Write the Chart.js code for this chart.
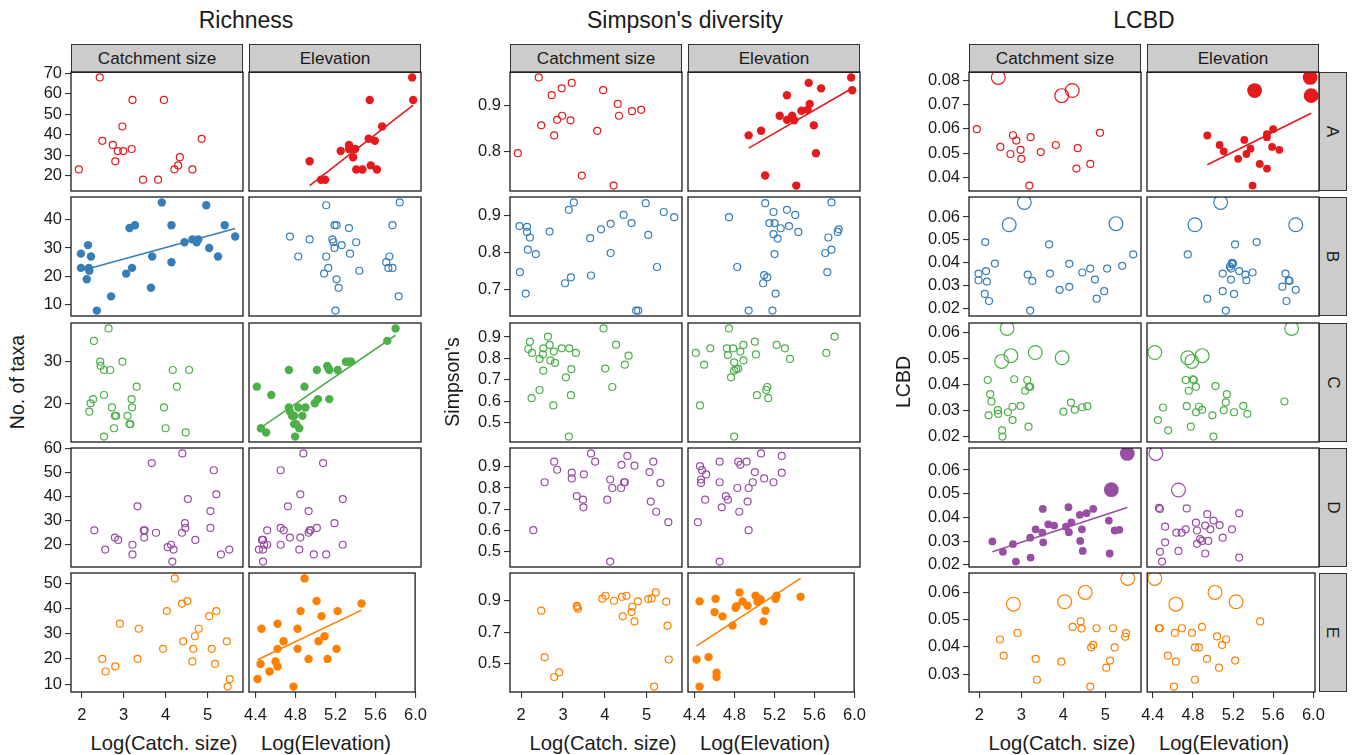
<!DOCTYPE html>
<html>
<head>
<meta charset="utf-8">
<script src="https://cdn.jsdelivr.net/npm/chart.js@4/dist/chart.umd.min.js"></script>
<style>
  html, body { margin: 0; padding: 0; background: #fff; }
  #fig { position: relative; width: 1352px; height: 755px; overflow: hidden;
         font-family: "Liberation Sans", Arial, Helvetica, sans-serif; color: #1a1a1a; }
  #fig canvas { position: absolute; }
  .txt { position: absolute; white-space: nowrap; }
  .strip { position: absolute; box-sizing: border-box; background: #cccccc; border: 1px solid #333;
           display: flex; align-items: center; justify-content: center; font-size: 17.2px; }
</style>
</head>
<body>
<div id="fig"></div>
<script>
// ---- data: [log x, value] per panel ----
// Richness (number of taxa)
const richA_catch = [[1.93,23],[2.43,68],[2.49,37],[2.74,35],[2.80,27],[2.86,32],[2.97,44],[2.99,32],[3.19,33],[3.21,57],[3.46,18],[3.82,18],[3.96,57],[4.21,23],[4.30,25],[4.34,29],[4.64,23],[4.86,38]];
const richA_elev = [[4.92,27],[5.03,18],[5.07,18],[5.22,32],[5.30,35],[5.30,33],[5.36,33],[5.34,29],[5.37,23],[5.43,23],[5.50,57],[5.49,38],[5.51,25],[5.55,37],[5.57,23],[5.62,44],[5.91,68],[5.92,57]];
const richB_catch = [[1.98,28],[1.98,23],[2.12,19],[2.15,31],[2.17,23],[2.18,22],[2.22,27],[2.36,8],[2.70,13],[3.06,21],[3.14,37],[3.20,23],[3.27,38],[3.65,16],[3.68,27],[3.91,46],[4.14,25],[4.14,38],[4.45,32],[4.64,33],[4.74,32],[4.78,33],[4.97,45],[5.04,30],[5.25,27],[5.41,38],[5.66,34]];
const richB_elev = [[4.73,34],[4.81,27],[4.92,33],[5.08,45],[5.08,27],[5.10,23],[5.06,21],[5.14,33],[5.15,32],[5.16,30],[5.16,38],[5.18,38],[5.18,19],[5.20,16],[5.17,8],[5.23,31],[5.30,37],[5.31,28],[5.37,32],[5.40,22],[5.66,25],[5.69,27],[5.68,23],[5.72,23],[5.72,38],[5.79,46],[5.78,13]];
const richC_catch = [[2.18,18],[2.21,20],[2.27,21],[2.29,35],[2.44,30],[2.45,29],[2.53,28],[2.53,22],[2.53,12],[2.64,38],[2.68,28],[2.72,19],[2.77,14],[2.79,17],[2.82,17],[2.97,30],[3.09,17],[3.14,15],[3.16,15],[3.19,21],[3.20,19],[3.31,24],[3.96,19],[4.00,14],[4.17,28],[4.27,24],[4.48,13],[4.56,28]];
const richC_elev = [[4.41,24],[4.45,14],[4.50,13],[4.55,22],[4.72,28],[4.72,19],[4.73,18],[4.75,17],[4.77,17],[4.77,15],[4.78,12],[4.79,15],[4.81,19],[4.82,14],[4.85,17],[4.87,24],[4.88,19],[4.97,20],[4.99,28],[5.00,21],[5.09,29],[5.10,28.5],[5.11,21],[5.11,28],[5.19,28],[5.27,30],[5.30,30],[5.32,30],[5.67,35],[5.75,38]];
const richD_catch = [[2.30,26],[2.56,18],[2.79,23],[2.87,22],[3.21,20],[3.21,16],[3.33,36],[3.48,26],[3.50,26],[3.49,23],[3.67,54],[3.77,25],[4.05,19],[4.13,20],[4.16,13],[4.19,18],[4.39,25],[4.40,58],[4.46,29],[4.47,27],[4.53,39],[4.71,22],[5.07,34],[5.07,27],[5.15,51],[5.21,41],[5.32,16],[5.52,18]];
const richD_elev = [[4.43,18],[4.46,22],[4.47,22],[4.47,18],[4.48,20],[4.47,13],[4.51,20],[4.51,26],[4.64,51],[4.64,27],[4.64,20],[4.67,26],[4.71,36],[4.73,23],[4.82,18],[4.83,41],[4.83,23],[4.86,58],[4.91,25],[4.91,34],[4.92,26],[4.93,26],[4.99,27],[5.05,54],[5.08,16],[4.96,16],[5.16,29],[5.24,39],[5.24,20]];
const richE_catch = [[2.49,20],[2.57,15],[2.80,17],[2.91,34],[3.33,20],[3.36,32],[3.94,24],[4.03,39],[4.22,52],[4.39,42],[4.42,27],[4.52,43],[4.64,19],[4.66,24],[4.70,29],[4.79,32],[5.04,37],[5.10,24],[5.18,18],[5.21,39],[5.46,27],[5.48,9],[5.53,12]];
const richE_elev = [[4.42,12],[4.45,18],[4.46,32],[4.54,15],[4.60,19],[4.62,24],[4.62,34],[4.62,17],[4.68,27],[4.78,9],[4.82,32],[4.82,24],[4.85,39],[4.89,52],[4.93,20],[5.01,43],[5.03,27],[5.06,37],[5.09,29],[5.12,20],[5.22,39],[5.21,24],[5.46,42]];

// Simpson's diversity
const simpA_catch = [[1.92,0.796],[2.42,0.962],[2.48,0.857],[2.73,0.923],[2.79,0.835],[2.86,0.869],[2.97,0.938],[2.98,0.878],[3.18,0.868],[3.21,0.950],[3.45,0.747],[3.82,0.845],[3.96,0.934],[4.21,0.725],[4.31,0.904],[4.34,0.878],[4.65,0.888],[4.87,0.891]];
const simpA_elev = [[4.92,0.835],[5.04,0.845],[5.08,0.747],[5.22,0.878],[5.29,0.923],[5.29,0.869],[5.34,0.878],[5.36,0.868],[5.38,0.725],[5.43,0.889],[5.50,0.950],[5.51,0.904],[5.49,0.891],[5.55,0.857],[5.57,0.796],[5.62,0.938],[5.91,0.962],[5.92,0.934]];
const simpB_catch = [[1.96,0.871],[1.97,0.746],[2.11,0.688],[2.14,0.869],[2.14,0.855],[2.16,0.807],[2.21,0.840],[2.35,0.795],[2.68,0.856],[3.05,0.716],[3.14,0.915],[3.19,0.732],[3.26,0.935],[3.65,0.838],[3.67,0.737],[3.91,0.862],[4.14,0.877],[4.14,0.798],[4.45,0.901],[4.64,0.879],[4.75,0.642],[4.80,0.642],[4.98,0.933],[5.04,0.847],[5.25,0.760],[5.41,0.909],[5.66,0.895]];
const simpB_elev = [[4.73,0.895],[4.81,0.760],[4.92,0.642],[5.08,0.933],[5.06,0.716],[5.07,0.738],[5.10,0.732],[5.12,0.879],[5.15,0.642],[5.16,0.909],[5.16,0.849],[5.17,0.879],[5.17,0.795],[5.18,0.688],[5.20,0.837],[5.23,0.865],[5.29,0.915],[5.31,0.871],[5.37,0.901],[5.40,0.855],[5.66,0.798],[5.68,0.746],[5.69,0.840],[5.72,0.807],[5.72,0.935],[5.78,0.855],[5.79,0.862]];
const simpC_catch = [[2.17,0.844],[2.21,0.878],[2.26,0.826],[2.25,0.615],[2.44,0.798],[2.44,0.653],[2.52,0.819],[2.53,0.847],[2.53,0.743],[2.64,0.902],[2.68,0.863],[2.70,0.791],[2.77,0.581],[2.78,0.832],[2.81,0.779],[2.97,0.847],[3.07,0.712],[3.15,0.847],[3.14,0.436],[3.19,0.629],[3.20,0.750],[3.31,0.826],[3.97,0.940],[4.01,0.753],[4.18,0.667],[4.27,0.864],[4.48,0.771],[4.57,0.813]];
const simpC_elev = [[4.41,0.826],[4.45,0.581],[4.49,0.771],[4.55,0.847],[4.71,0.847],[4.72,0.816],[4.73,0.940],[4.75,0.712],[4.77,0.847],[4.78,0.782],[4.78,0.743],[4.80,0.750],[4.82,0.753],[4.84,0.832],[4.87,0.863],[4.87,0.791],[4.98,0.878],[4.99,0.819],[5.00,0.629],[5.09,0.653],[5.10,0.667],[5.11,0.615],[5.19,0.863],[5.27,0.847],[5.32,0.798],[5.67,0.826],[5.75,0.902],[4.78,0.436]];
const simpD_catch = [[2.29,0.601],[2.56,0.827],[2.79,0.924],[2.86,0.886],[3.21,0.845],[3.21,0.872],[3.33,0.762],[3.48,0.745],[3.49,0.709],[3.50,0.864],[3.67,0.963],[3.77,0.924],[4.06,0.745],[4.13,0.840],[4.13,0.453],[4.18,0.800],[4.39,0.800],[4.40,0.909],[4.46,0.827],[4.48,0.827],[4.54,0.951],[4.71,0.905],[5.07,0.875],[5.10,0.736],[5.16,0.924],[5.23,0.688],[5.33,0.824],[5.52,0.639]];
const simpD_elev = [[4.43,0.639],[4.45,0.903],[4.46,0.840],[4.46,0.824],[4.47,0.884],[4.50,0.745],[4.51,0.864],[4.64,0.924],[4.64,0.827],[4.66,0.709],[4.70,0.762],[4.72,0.745],[4.81,0.800],[4.83,0.688],[4.82,0.924],[4.84,0.909],[4.90,0.924],[4.91,0.736],[4.92,0.800],[4.92,0.601],[4.96,0.827],[4.98,0.875],[5.04,0.963],[5.07,0.845],[5.16,0.827],[5.24,0.951],[5.24,0.872],[4.64,0.453]];
const simpE_catch = [[2.48,0.837],[2.56,0.542],[2.79,0.416],[2.91,0.445],[3.33,0.868],[3.34,0.860],[3.36,0.849],[3.94,0.913],[4.02,0.932],[4.22,0.900],[4.41,0.925],[4.43,0.801],[4.52,0.932],[4.64,0.828],[4.66,0.862],[4.71,0.769],[4.79,0.896],[5.04,0.911],[5.12,0.915],[5.22,0.953],[5.47,0.894],[5.50,0.742],[5.53,0.527],[5.18,0.355]];
const simpE_elev = [[4.42,0.527],[4.45,0.896],[4.45,0.355],[4.54,0.542],[4.60,0.828],[4.61,0.913],[4.62,0.443],[4.62,0.416],[4.68,0.801],[4.78,0.742],[4.81,0.856],[4.82,0.866],[4.85,0.953],[4.88,0.896],[4.93,0.868],[5.01,0.932],[5.03,0.894],[5.04,0.915],[5.06,0.908],[5.11,0.837],[5.09,0.769],[5.21,0.913],[5.22,0.932],[5.46,0.925]];

// LCBD: [log x, LCBD, significant site (1) or not (0)]
const lcbdA_catch = [[1.94,0.0599,0],[2.45,0.0812,1],[2.50,0.0526,0],[2.74,0.0497,0],[2.80,0.0574,0],[2.88,0.0552,0],[2.98,0.0514,0],[3.00,0.0477,0],[3.22,0.0566,0],[3.19,0.0367,0],[3.46,0.0505,0],[3.82,0.0534,0],[3.96,0.0737,1],[4.21,0.0758,1],[4.31,0.0437,0],[4.34,0.0521,0],[4.64,0.0456,0],[4.87,0.0584,0]];
const lcbdA_elev = [[4.93,0.0573,0],[5.05,0.0534,0],[5.09,0.0508,0],[5.23,0.0477,0],[5.29,0.0555,0],[5.31,0.0497,0],[5.35,0.0519,0],[5.37,0.0367,0],[5.39,0.0758,1],[5.44,0.0456,0],[5.51,0.0579,0],[5.51,0.0437,0],[5.51,0.0566,0],[5.56,0.0526,0],[5.57,0.0599,0],[5.63,0.0514,0],[5.93,0.0812,1],[5.94,0.0737,1]];
const lcbdB_catch = [[1.98,0.0352,0],[1.98,0.0323,0],[2.14,0.0490,0],[2.16,0.0363,0],[2.18,0.0317,0],[2.13,0.0263,0],[2.23,0.0232,0],[2.37,0.0396,0],[2.71,0.0566,1],[3.07,0.0664,1],[3.15,0.0348,0],[3.26,0.0320,0],[3.66,0.0480,0],[3.68,0.0352,0],[3.91,0.0281,0],[4.14,0.0395,0],[4.14,0.0294,0],[4.45,0.0357,0],[4.64,0.0374,0],[4.75,0.0326,0],[4.79,0.0242,0],[4.97,0.0275,0],[5.04,0.0374,0],[5.25,0.0571,1],[5.40,0.0386,0],[5.66,0.0436,0],[3.21,0.0190,0]];
const lcbdB_elev = [[4.74,0.0436,0],[4.81,0.0566,1],[4.93,0.0242,0],[5.06,0.0664,1],[5.08,0.0352,0],[5.08,0.0275,0],[5.16,0.0374,0],[5.16,0.0326,0],[5.17,0.0393,0],[5.18,0.0396,0],[5.19,0.0263,0],[5.20,0.0480,0],[5.24,0.0363,0],[5.30,0.0348,0],[5.31,0.0323,0],[5.37,0.0357,0],[5.41,0.0490,0],[5.69,0.0352,0],[5.66,0.0295,0],[5.70,0.0232,0],[5.72,0.0322,0],[5.73,0.0320,0],[5.79,0.0281,0],[5.79,0.0566,1],[5.11,0.0190,0],[5.15,0.0383,0],[5.17,0.0399,0]];
const lcbdC_catch = [[2.20,0.0417,0],[2.22,0.0282,0],[2.26,0.0363,0],[2.29,0.0335,0],[2.44,0.0302,0],[2.45,0.0288,0],[2.53,0.0488,1],[2.54,0.0225,0],[2.55,0.0201,0],[2.68,0.0294,0],[2.75,0.0510,1],[2.79,0.0315,0],[2.79,0.0264,0],[2.83,0.0420,0],[2.98,0.0318,0],[3.09,0.0376,0],[3.14,0.0417,0],[3.17,0.0239,0],[3.18,0.0391,0],[3.21,0.0391,0],[3.33,0.0522,1],[3.97,0.0502,1],[4.00,0.0296,0],[4.18,0.0331,0],[4.27,0.0303,0],[4.45,0.0313,0],[4.57,0.0317,0],[2.66,0.0614,1]];
const lcbdC_elev = [[4.42,0.0522,1],[4.45,0.0264,0],[4.50,0.0312,0],[4.55,0.0225,0],[4.72,0.0417,0],[4.73,0.0317,0],[4.74,0.0502,1],[4.75,0.0376,0],[4.78,0.0488,1],[4.79,0.0420,0],[4.80,0.0417,0],[4.82,0.0391,0],[4.82,0.0294,0],[4.85,0.0315,0],[4.88,0.0303,0],[4.77,0.0239,0],[4.88,0.0510,1],[4.98,0.0282,0],[4.99,0.0201,0],[5.01,0.0394,0],[5.09,0.0302,0],[5.11,0.0332,0],[5.12,0.0363,0],[5.19,0.0294,0],[5.28,0.0318,0],[5.32,0.0288,0],[5.68,0.0335,0],[5.75,0.0614,1]];
const lcbdD_catch = [[2.31,0.0299,0],[2.56,0.0255,0],[2.80,0.0288,0],[2.87,0.0214,0],[3.21,0.0315,0],[3.22,0.0231,0],[3.34,0.0350,0],[3.50,0.0336,0],[3.51,0.0436,0],[3.52,0.0295,0],[3.64,0.0371,0],[3.78,0.0366,0],[4.06,0.0361,0],[4.12,0.0443,0],[4.13,0.0338,0],[4.19,0.0379,0],[4.39,0.0411,0],[4.40,0.0301,0],[4.44,0.0350,0],[4.46,0.0259,0],[4.55,0.0418,0],[4.71,0.0436,0],[5.08,0.0387,0],[5.10,0.0248,0],[5.14,0.0517,1],[5.22,0.0345,0],[5.33,0.0348,0],[5.52,0.0670,1]];
const lcbdD_elev = [[4.43,0.0670,1],[4.46,0.0440,0],[4.47,0.0436,0],[4.47,0.0255,0],[4.49,0.0214,0],[4.52,0.0361,0],[4.52,0.0295,0],[4.63,0.0336,0],[4.65,0.0259,0],[4.65,0.0516,1],[4.68,0.0336,0],[4.72,0.0350,0],[4.73,0.0438,0],[4.82,0.0378,0],[4.83,0.0345,0],[4.83,0.0289,0],[4.86,0.0309,0],[4.88,0.0301,0],[4.91,0.0366,0],[4.91,0.0248,0],[4.93,0.0414,0],[4.94,0.0301,0],[4.96,0.0350,0],[4.99,0.0387,0],[5.05,0.0368,0],[5.08,0.0315,0],[5.17,0.0350,0],[5.24,0.0418,0],[5.24,0.0231,0]];
const lcbdE_catch = [[2.49,0.0427,0],[2.58,0.0368,0],[2.81,0.0556,1],[2.91,0.0451,0],[3.34,0.0356,0],[3.37,0.0280,0],[3.95,0.0346,0],[4.03,0.0565,1],[4.22,0.0473,0],[4.41,0.0493,0],[4.43,0.0467,0],[4.52,0.0599,1],[4.64,0.0255,0],[4.66,0.0398,0],[4.71,0.0407,0],[4.79,0.0468,0],[5.02,0.0324,0],[5.11,0.0350,0],[5.18,0.0468,0],[5.22,0.0398,0],[5.47,0.0437,0],[5.49,0.0450,0],[5.53,0.0650,1]];
const lcbdE_elev = [[4.42,0.0650,1],[4.46,0.0468,0],[4.47,0.0468,0],[4.55,0.0368,0],[4.61,0.0255,0],[4.62,0.0451,0],[4.63,0.0556,1],[4.63,0.0346,0],[4.69,0.0468,0],[4.79,0.0451,0],[4.82,0.0280,0],[4.82,0.0398,0],[4.86,0.0398,0],[4.89,0.0473,0],[4.94,0.0356,0],[5.02,0.0599,1],[5.04,0.0438,0],[5.06,0.0324,0],[5.09,0.0407,0],[5.13,0.0427,0],[5.22,0.0350,0],[5.23,0.0565,1],[5.47,0.0493,0]];

// significant slope per row: [catchment, elevation] -> filled points + fitted line
const richSig = [[0,1],[1,0],[0,1],[0,0],[0,1]];
const simpSig = [[0,1],[0,0],[0,0],[0,0],[0,1]];
const lcbdSig = [[0,1],[0,0],[0,0],[1,0],[0,0]];

// tick labels
const rowNames = ['A', 'B', 'C', 'D', 'E'];
const catchTicks = [2, 3, 4, 5];
const elevTicks = [4.4, 4.8, 5.2, 5.6, 6.0];
const richTicks = [[20,30,40,50,60,70],[10,20,30,40],[20,30],[20,30,40,50,60],[10,20,30,40,50]];
const simpTicks = [[0.8,0.9],[0.7,0.8,0.9],[0.5,0.6,0.7,0.8,0.9],[0.5,0.6,0.7,0.8,0.9],[0.5,0.7,0.9]];
const lcbdTicks = [[0.04,0.05,0.06,0.07,0.08],[0.02,0.03,0.04,0.05,0.06],[0.02,0.03,0.04,0.05,0.06],[0.02,0.03,0.04,0.05,0.06],[0.03,0.04,0.05,0.06]];

// ---- layout ----
const FONT = '"Liberation Sans", Arial, Helvetica, sans-serif';
const INK = '#1a1a1a';
const rowColors = ['#E41A1C', '#377EB8', '#4DAF4A', '#984EA3', '#FF7F00'];
const PW = 172, PH = 119, COL_STEP = 178;
const ROW_TOP = [72, 197, 323, 448, 573];
const M = 14, YW = 58, XH = 38;

const groups = [
  { title: 'Richness', ylab: 'No. of taxa', left: 71, ylabX: 18, fmt: v => String(v), sig: richSig, ticks: richTicks,
    panels: [[richA_catch, richA_elev], [richB_catch, richB_elev], [richC_catch, richC_elev], [richD_catch, richD_elev], [richE_catch, richE_elev]] },
  { title: "Simpson's diversity", ylab: "Simpson's", left: 510, ylabX: 453, fmt: v => v.toFixed(1), sig: simpSig, ticks: simpTicks,
    panels: [[simpA_catch, simpA_elev], [simpB_catch, simpB_elev], [simpC_catch, simpC_elev], [simpD_catch, simpD_elev], [simpE_catch, simpE_elev]] },
  { title: 'LCBD', ylab: 'LCBD', left: 969, ylabX: 904, fmt: v => v.toFixed(2), sig: lcbdSig, ticks: lcbdTicks, sized: true,
    panels: [[lcbdA_catch, lcbdA_elev], [lcbdB_catch, lcbdB_elev], [lcbdC_catch, lcbdC_elev], [lcbdD_catch, lcbdD_elev], [lcbdE_catch, lcbdE_elev]] }
];

const fig = document.getElementById('fig');

function addText(text, cx, baseline, size) {
  const d = document.createElement('div');
  d.className = 'txt';
  d.textContent = text;
  d.style.fontSize = size + 'px';
  d.style.lineHeight = size + 'px';
  d.style.left = cx + 'px';
  d.style.top = (baseline - 0.8465 * size) + 'px';
  d.style.transform = 'translateX(-50%)';
  fig.appendChild(d);
}

function addRotated(text, cx, cy, size, deg) {
  const d = document.createElement('div');
  d.className = 'txt';
  d.textContent = text;
  d.style.fontSize = size + 'px';
  d.style.lineHeight = size + 'px';
  d.style.left = cx + 'px';
  d.style.top = cy + 'px';
  d.style.transform = 'translate(-50%,-50%) rotate(' + deg + 'deg)';
  fig.appendChild(d);
}

// least-squares fit, returned as the line over the data's x extent
function fitLine(pts) {
  const n = pts.length;
  let mx = 0, my = 0;
  pts.forEach(p => { mx += p[0]; my += p[1]; });
  mx /= n; my /= n;
  let sxy = 0, sxx = 0;
  pts.forEach(p => { sxy += (p[0] - mx) * (p[1] - my); sxx += (p[0] - mx) * (p[0] - mx); });
  const b = sxy / sxx, a = my - b * mx;
  const xs = pts.map(p => p[0]);
  const x0 = Math.min(...xs), x1 = Math.max(...xs);
  return [{ x: x0, y: a + b * x0 }, { x: x1, y: a + b * x1 }];
}

function expand(vals) {
  const lo = Math.min(...vals), hi = Math.max(...vals), d = (hi - lo) * 0.05;
  return [lo - d, hi + d];
}

const panelBorder = {
  id: 'panelBorder',
  afterDraw(chart) {
    const a = chart.chartArea, c = chart.ctx;
    c.save();
    c.strokeStyle = INK;
    c.lineWidth = 1.3;
    c.strokeRect(a.left, a.top, a.right - a.left, a.bottom - a.top);
    c.restore();
  }
};

groups.forEach(g => {
  // fitted lines and shared ranges (ggplot style 5% expansion)
  const fits = g.panels.map((row, r) => row.map((pts, c) => g.sig[r][c] ? fitLine(pts) : null));
  const xRange = [0, 1].map(c => expand(g.panels.flatMap(row => row[c].map(p => p[0]))));
  const yRange = g.panels.map((row, r) => {
    const v = row[0].concat(row[1]).map(p => p[1]);
    fits[r].forEach(f => { if (f) f.forEach(q => v.push(q.y)); });
    return expand(v);
  });

  // title, strips, axis titles
  const mid = g.left + (COL_STEP + PW) / 2;
  addText(g.title, mid, 28.5, 23);
  ['Catchment size', 'Elevation'].forEach((s, c) => {
    const d = document.createElement('div');
    d.className = 'strip';
    d.textContent = s;
    Object.assign(d.style, { left: (g.left + c * COL_STEP) + 'px', top: '44px', width: PW + 'px', height: '29px' });
    fig.appendChild(d);
  });
  addRotated(g.ylab, g.ylabX, (ROW_TOP[0] + ROW_TOP[4] + PH) / 2, 19.5, -90);
  addText('Log(Catch. size)', g.left + PW / 2 + 7, 750.5, 20.2);
  addText('Log(Elevation)', g.left + COL_STEP + PW / 2 - 9, 750.5, 20.2);

  g.panels.forEach((row, r) => {
    row.forEach((pts, c) => {
      const isLeft = c === 0, isBottom = r === 4;
      const px = g.left + c * COL_STEP, py = ROW_TOP[r];
      const cv = document.createElement('canvas');
      cv.width = PW + 2 * M + (isLeft ? YW : 0);
      cv.height = PH + 2 * M + (isBottom ? XH : 0);
      cv.style.left = (px - M - (isLeft ? YW : 0)) + 'px';
      cv.style.top = (py - M) + 'px';
      fig.appendChild(cv);

      const color = rowColors[r];
      const filled = !!g.sig[r][c];
      const radius = ctx => {
        const big = g.sized && ctx.raw && ctx.raw.s;
        if (filled) return big ? 7.4 : (g.sized ? 3.9 : 4.2);
        return big ? 6.9 : 3.5;
      };
      const datasets = [];
      if (fits[r][c]) {
        datasets.push({ data: fits[r][c], showLine: true, pointRadius: 0, borderColor: color, borderWidth: 1.6 });
      }
      datasets.push({
        data: pts.map(p => ({ x: p[0], y: p[1], s: p[2] || 0 })),
        pointRadius: radius,
        pointHoverRadius: radius,
        backgroundColor: filled ? color : 'rgba(0,0,0,0)',
        borderColor: color,
        borderWidth: filled ? 0 : 1.2
      });

      const tickFont = { family: FONT, size: 16.5 };
      const xTicks = c === 0 ? catchTicks : elevTicks;
      const xScale = {
        type: 'linear', min: xRange[c][0], max: xRange[c][1], display: isBottom,
        afterBuildTicks: s => { s.ticks = xTicks.map(v => ({ value: v })); },
        ticks: { callback: v => (c === 0 ? String(v) : v.toFixed(1)), font: tickFont, color: INK,
                 padding: 8, autoSkip: false, maxRotation: 0 },
        grid: { drawOnChartArea: false, drawTicks: true, tickLength: 6, color: '#333', lineWidth: 1.1 },
        border: { display: false }
      };
      if (isBottom) xScale.afterFit = s => { s.height = XH; };
      const yScale = {
        type: 'linear', min: yRange[r][0], max: yRange[r][1], display: isLeft,
        afterBuildTicks: s => { s.ticks = g.ticks[r].map(v => ({ value: v })); },
        ticks: { callback: v => g.fmt(v), font: tickFont, color: INK, padding: 3, autoSkip: false },
        grid: { drawOnChartArea: false, drawTicks: true, tickLength: 6, color: '#333', lineWidth: 1.1 },
        border: { display: false }
      };
      if (isLeft) yScale.afterFit = s => { s.width = YW; };

      new Chart(cv, {
        type: 'scatter',
        data: { datasets },
        plugins: [panelBorder],
        options: {
          responsive: false,
          animation: false,
          devicePixelRatio: 1,
          events: [],
          layout: { padding: { left: M, right: M, top: M, bottom: M }, autoPadding: false },
          plugins: { legend: { display: false }, tooltip: { enabled: false } },
          scales: { x: xScale, y: yScale }
        }
      });
    });

    // facet strip on the right of the LCBD block
    if (g.sized) {
      const d = document.createElement('div');
      d.className = 'strip';
      Object.assign(d.style, { left: (g.left + COL_STEP + PW) + 'px', top: ROW_TOP[r] + 'px', width: '28px', height: PH + 'px' });
      const s = document.createElement('span');
      s.textContent = rowNames[r];
      s.style.display = 'inline-block';
      s.style.transform = 'rotate(90deg)';
      d.appendChild(s);
      fig.appendChild(d);
    }
  });
});
</script>
</body>
</html>
